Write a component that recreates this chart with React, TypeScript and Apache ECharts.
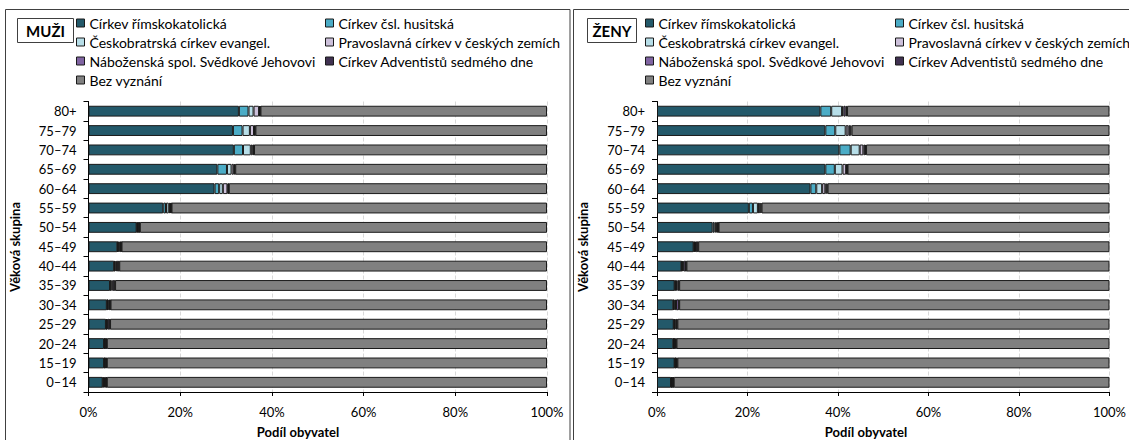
import React, { useEffect, useRef } from "react";
import * as echarts from "echarts";

const categories = ["0–14", "15–19", "20–24", "25–29", "30–34", "35–39", "40–44", "45–49", "50–54", "55–59", "60–64", "65–69", "70–74", "75–79", "80+"];

const seriesNames = [
  "Církev římskokatolická",
  "Církev čsl. husitská",
  "Českobratrská církev evangel.",
  "Pravoslavná církev v českých zemích",
  "Náboženská spol. Svědkové Jehovovi",
  "Církev Adventistů sedmého dne",
  "Bez vyznání",
];
const seriesColors = ["#23596a", "#4bacc6", "#b7dee8", "#ccc0da", "#8064a2", "#403151", "#808080"];

// MUŽI (men), ordered 0–14 ... 80+
const menRC = [3.1, 3.4, 3.4, 3.8, 4.0, 4.7, 5.6, 6.3, 10.5, 16.3, 27.5, 28.1, 31.7, 31.5, 32.8];
const menCSH = [0.1, 0.1, 0.1, 0.1, 0.1, 0.1, 0.1, 0.1, 0.1, 0.6, 1.0, 2.1, 2.0, 2.1, 2.1];
const menCCE = [0.2, 0.1, 0.1, 0.1, 0.1, 0.2, 0.2, 0.2, 0.2, 0.6, 0.8, 1.0, 1.7, 1.6, 1.1];
const menPRAV = [0.2, 0.1, 0.1, 0.2, 0.2, 0.3, 0.3, 0.2, 0.1, 0.3, 1.0, 0.5, 0.4, 0.9, 1.2];
const menJW = [0.3, 0.2, 0.2, 0.4, 0.3, 0.4, 0.4, 0.3, 0.2, 0.2, 0.2, 0.2, 0.2, 0.2, 0.2];
const menADV = [0.1, 0.1, 0.1, 0.1, 0.1, 0.1, 0.1, 0.1, 0.1, 0.1, 0.1, 0.1, 0.1, 0.1, 0.1];
const menBEZ = [96.0, 96.0, 96.0, 95.3, 95.2, 94.2, 93.3, 92.8, 88.8, 81.9, 69.4, 68.0, 63.9, 63.6, 62.5];

// ŽENY (women), ordered 0–14 ... 80+
const womenRC = [3.1, 3.9, 3.6, 3.7, 3.6, 3.9, 5.4, 8.1, 12.3, 20.3, 33.9, 37.2, 40.3, 37.2, 36.1];
const womenCSH = [0.1, 0.1, 0.1, 0.1, 0.1, 0.1, 0.1, 0.1, 0.4, 0.9, 1.3, 2.1, 2.5, 2.2, 2.4];
const womenCCE = [0.1, 0.1, 0.1, 0.1, 0.2, 0.2, 0.2, 0.2, 0.3, 1.1, 1.3, 1.7, 2.0, 2.3, 2.4];
const womenPRAV = [0.1, 0.1, 0.1, 0.2, 0.3, 0.3, 0.2, 0.2, 0.2, 0.3, 0.7, 0.8, 0.8, 0.6, 0.3];
const womenJW = [0.2, 0.2, 0.3, 0.3, 0.6, 0.3, 0.5, 0.4, 0.3, 0.3, 0.3, 0.2, 0.4, 0.4, 0.5];
const womenADV = [0.1, 0.1, 0.1, 0.1, 0.1, 0.1, 0.1, 0.1, 0.1, 0.2, 0.2, 0.1, 0.2, 0.3, 0.3];
const womenBEZ = [96.3, 95.5, 95.7, 95.5, 95.1, 95.1, 93.5, 90.9, 86.4, 76.9, 62.3, 57.9, 53.8, 57.0, 58.0];

const xTicks = [0, 20, 40, 60, 80, 100];

const panelTitles = ["MUŽI", "ŽENY"];
const yAxisTitle = "Věková skupina";
const xAxisTitle = "Podíl obyvatel";

const FONT = "Lato, 'Liberation Sans', sans-serif";

export default function App() {
  const ref = useRef<HTMLDivElement>(null);

  useEffect(() => {
    if (!ref.current) return;
    const chart = echarts.init(ref.current, null, { renderer: "svg" });

    const menData = [menRC, menCSH, menCCE, menPRAV, menJW, menADV, menBEZ];
    const womenData = [womenRC, womenCSH, womenCCE, womenPRAV, womenJW, womenADV, womenBEZ];

    const panels = [
      { gridLeft: 88.5, data: menData, stack: "m" },
      { gridLeft: 657, data: womenData, stack: "w" },
    ];

    const grids = panels.map((p) => ({ left: p.gridLeft, width: 458.5, top: 101.5, height: 290.5 }));

    const xAxes = panels.map((p, i) => ({
      type: "value",
      gridIndex: i,
      min: xTicks[0],
      max: xTicks[xTicks.length - 1],
      interval: 20,
      axisLine: { show: true, lineStyle: { color: "#000", width: 1 } },
      axisTick: { show: true, length: 4, lineStyle: { color: "#000" } },
      axisLabel: { formatter: "{value}%", fontSize: 13, color: "#000", margin: 13, fontFamily: FONT },
      splitLine: { show: true, lineStyle: { color: "#d9d9d9", type: "dashed", width: 1 } },
    }));

    const yAxes = panels.map((p, i) => ({
      type: "category",
      gridIndex: i,
      data: categories,
      axisLine: { show: true, lineStyle: { color: "#000", width: 1 } },
      axisTick: { show: true, length: 5, lineStyle: { color: "#000" } },
      axisLabel: { fontSize: 13, color: "#000", margin: 12, fontFamily: FONT },
      splitLine: { show: false },
    }));

    const series: any[] = [];
    panels.forEach((p, pi) => {
      seriesNames.forEach((name, si) => {
        series.push({
          type: "bar",
          name,
          stack: p.stack,
          xAxisIndex: pi,
          yAxisIndex: pi,
          barWidth: "56%",
          data: p.data[si],
          itemStyle: { color: seriesColors[si], borderColor: "#1a1a1a", borderWidth: 1 },
          emphasis: { disabled: true },
        });
      });
    });

    const legendBase = {
      orient: "vertical",
      top: 16,
      padding: 0,
      itemWidth: 8,
      itemHeight: 8,
      itemGap: 5,
      icon: "rect",
      itemStyle: { borderColor: "#1a1a1a", borderWidth: 1 },
      textStyle: { fontSize: 14, lineHeight: 14, color: "#000", fontFamily: FONT },
    };
    const col1 = [seriesNames[0], seriesNames[2], seriesNames[4], seriesNames[6]];
    const col2 = [seriesNames[1], seriesNames[3], seriesNames[5]];
    const legends = [
      { ...legendBase, left: 76, data: col1 },
      { ...legendBase, left: 325, data: col2 },
      { ...legendBase, left: 645, data: col1 },
      { ...legendBase, left: 895, data: col2 },
    ];

    const graphics: any[] = [
      { type: "rect", shape: { x: 5.5, y: 9.5, width: 564.5, height: 440 }, style: { fill: "none", stroke: "#404040", lineWidth: 1 }, silent: true },
      { type: "rect", shape: { x: 573.5, y: 9.5, width: 570, height: 440 }, style: { fill: "none", stroke: "#404040", lineWidth: 1 }, silent: true },
      { type: "rect", shape: { x: 17.5, y: 18.5, width: 56, height: 24 }, style: { fill: "#fff", stroke: "#404040", lineWidth: 1 } },
      { type: "rect", shape: { x: 587.5, y: 18.5, width: 49, height: 24 }, style: { fill: "#fff", stroke: "#404040", lineWidth: 1 } },
      { type: "text", x: 45.5, y: 31, style: { text: panelTitles[0], fontSize: 15, fontWeight: "bold", fill: "#000", align: "center", verticalAlign: "middle", fontFamily: FONT } },
      { type: "text", x: 612, y: 31, style: { text: panelTitles[1], fontSize: 15, fontWeight: "bold", fill: "#000", align: "center", verticalAlign: "middle", fontFamily: FONT } },
      { type: "text", x: 15, y: 247, rotation: Math.PI / 2, style: { text: yAxisTitle, fontSize: 13, fontWeight: "bold", fill: "#000", align: "center", verticalAlign: "middle", fontFamily: FONT } },
      { type: "text", x: 583, y: 247, rotation: Math.PI / 2, style: { text: yAxisTitle, fontSize: 13, fontWeight: "bold", fill: "#000", align: "center", verticalAlign: "middle", fontFamily: FONT } },
      { type: "text", x: 298, y: 432, style: { text: xAxisTitle, fontSize: 13, fontWeight: "bold", fill: "#000", align: "center", verticalAlign: "middle", fontFamily: FONT } },
      { type: "text", x: 866, y: 432, style: { text: xAxisTitle, fontSize: 13, fontWeight: "bold", fill: "#000", align: "center", verticalAlign: "middle", fontFamily: FONT } },
    ];

    chart.setOption({
      animation: false,
      backgroundColor: "#fff",
      textStyle: { fontFamily: FONT },
      grid: grids,
      xAxis: xAxes,
      yAxis: yAxes,
      legend: legends,
      series,
      graphic: graphics,
    });

    return () => chart.dispose();
  }, []);

  return <div ref={ref} style={{ position: "absolute", left: 0, top: 0, width: 1129, height: 440 }} />;
}
